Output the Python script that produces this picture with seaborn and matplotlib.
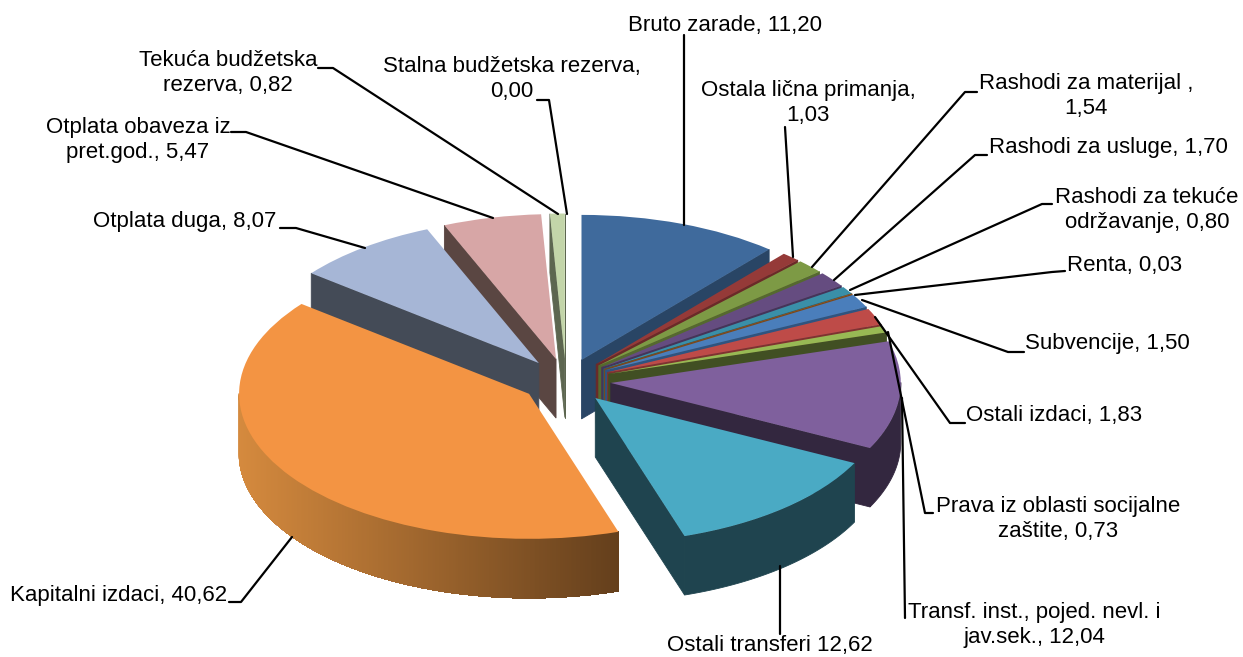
import matplotlib
matplotlib.use('Agg')
import matplotlib.pyplot as plt
from matplotlib.colors import to_rgb
import numpy as np
import seaborn as sns

names = ['Bruto zarade', 'Ostala lična primanja', 'Rashodi za materijal', 'Rashodi za usluge',
         'Rashodi za tekuće održavanje', 'Renta', 'Subvencije', 'Ostali izdaci',
         'Prava iz oblasti socijalne zaštite', 'Transf. inst., pojed. nevl. i jav.sek.',
         'Ostali transferi', 'Kapitalni izdaci', 'Otplata duga', 'Otplata obaveza iz pret.god.',
         'Tekuća budžetska rezerva', 'Stalna budžetska rezerva']
values = [11.20, 1.03, 1.54, 1.70, 0.80, 0.03, 1.50, 1.83, 0.73, 12.04, 12.62, 40.62, 8.07, 5.47, 0.82, 0.00]

top_colors = ['#3F6A9C', '#953A38', '#7D9A45', '#654C80', '#3A8FA8', '#B66C2B', '#4A7EBB', '#BE4B48',
              '#98B954', '#7F609D', '#4AAAC4', '#F39443', '#A6B6D6', '#D7A6A6', '#C3D5A9', '#F0F0F0']
wall_colors = ['#294565', '#6B2A28', '#55692F', '#45345A', '#275F70', '#7A481C', '#2F5480', '#7F3230',
               '#414F23', '#33273F', '#1F444F', '#F39443', '#444B57', '#5A4642', '#5D6650', '#A0A0A0']

# tekst natpisa: (x, y centra bloka u pikselima, sadrzaj)
label_text = ['Bruto zarade, 11,20', 'Ostala lična primanja,\n1,03', 'Rashodi za materijal ,\n1,54',
              'Rashodi za usluge, 1,70', 'Rashodi za tekuće\nodržavanje, 0,80', 'Renta, 0,03',
              'Subvencije, 1,50', 'Ostali izdaci, 1,83', 'Prava iz oblasti socijalne\nzaštite, 0,73',
              'Transf. inst., pojed. nevl. i\njav.sek., 12,04', 'Ostali transferi 12,62',
              'Kapitalni izdaci, 40,62', 'Otplata duga, 8,07', 'Otplata obaveza iz\npret.god., 5,47',
              'Tekuća budžetska\nrezerva, 0,82', 'Stalna budžetska rezerva,\n0,00']
label_pos = [(725, 25), (808, 103), (1086, 96), (1108, 147), (1147, 210), (1125, 265), (1107, 343), (1054, 415),
             (1058, 519), (1034, 625), (770, 645), (119, 595), (185, 222), (138, 140), (228, 73), (512, 79)]
leaders = [[(684, 35), (684, 225)],
           [(785, 127), (793, 257)],
           [(977, 92), (965, 92), (812, 267)],
           [(987, 155), (975, 155), (834, 280)],
           [(1052, 204), (1042, 204), (850, 290)],
           [(1065, 271), (1052, 272), (855, 295)],
           [(1024, 352), (1008, 352), (862, 300)],
           [(965, 423), (950, 423), (875, 317)],
           [(933, 513), (925, 513), (888, 332)],
           [(905, 618), (902, 398)],
           [(780, 634), (780, 566)],
           [(229, 602), (241, 602), (292, 537)],
           [(280, 228), (296, 228), (365, 248)],
           [(231, 132), (246, 132), (493, 218)],
           [(318, 68), (333, 68), (558, 214)],
           [(537, 100), (549, 100), (567, 214)]]

W, H = 1243, 657
RX, RY = 290, 145
CX, CY = 566, 381
DEPTH = 59 / RY

sns.set_theme(style='white')
plt.rcParams['font.family'] = ['Liberation Sans', 'DejaVu Sans']

fig = plt.figure(figsize=(W / 100, H / 100), dpi=100)
ax = fig.add_axes([0, 0, 1, 1])
wedges, _ = ax.pie(values, explode=[0.155] * len(values), colors=sns.color_palette(top_colors),
                   startangle=90, counterclock=False, radius=1, wedgeprops={'linewidth': 0})
ax.set_aspect('auto')
ax.set_xlim(-CX / RX, (W - CX) / RX)
ax.set_ylim(-(H - CY) / RY, CY / RY)


def fill_wall(xs, ys, color, z):
    px = np.concatenate([xs, xs[::-1]])
    py = np.concatenate([ys, ys[::-1] - DEPTH])
    ax.fill(px, py, color=color, lw=0.6, zorder=z)


# zidovi se crtaju od zadnjeg ka prednjem isjecku
mids = [np.radians((w.theta1 + w.theta2) / 2) for w in wedges]
order = sorted(range(len(wedges)), key=lambda i: -np.sin(mids[i]))
for rank, i in enumerate(order):
    w = wedges[i]
    z = 2 + rank * 2
    w.set_zorder(z + 1)
    cx, cy = w.center
    t1, t2 = w.theta1, w.theta2
    if t2 - t1 <= 0:
        w.set_visible(False)
        continue
    # radijalne stranice
    for t, n in ((t1, t1 - 90), (t2, t2 + 90)):
        if np.sin(np.radians(n)) < 0:
            a = np.radians(t)
            fill_wall(np.array([cx, cx + np.cos(a)]), np.array([cy, cy + np.sin(a)]), wall_colors[i], z)
    # spoljasnji luk
    ang = np.radians(np.linspace(t1, t2, 400))
    ang = ang[np.sin(ang) < 0.005]
    if len(ang) < 2:
        continue
    if names[i] == 'Kapitalni izdaci':
        left, right = np.array(to_rgb('#D58A3E')), np.array(to_rgb('#643F1C'))
        xs_all = cx + np.cos(ang)
        # gradijent po x: svaka traka prekriva i narednu da ne ostanu sarovi
        for k in range(len(ang) - 1):
            f = (xs_all[k] - xs_all.min()) / (xs_all.max() - xs_all.min())
            seg = np.arange(k, len(ang))
            fill_wall(xs_all[seg], cy + np.sin(ang[seg]), tuple(left + (right - left) * f), z)
    else:
        fill_wall(cx + np.cos(ang), cy + np.sin(ang), wall_colors[i], z)

# sloj za natpise i linije, u pikselima
over = fig.add_axes([0, 0, 1, 1], facecolor='none')
over.set_xlim(0, W)
over.set_ylim(H, 0)
over.axis('off')
for pts in leaders:
    xs, ys = zip(*pts)
    sns.lineplot(x=list(xs), y=list(ys), ax=over, color='black', lw=1.6, sort=False, estimator=None)
for txt, (x, y) in zip(label_text, label_pos):
    over.text(x, y, txt, ha='center', va='center', fontsize=16, color='black', linespacing=1.2)

fig.savefig('out.png', dpi=100)
